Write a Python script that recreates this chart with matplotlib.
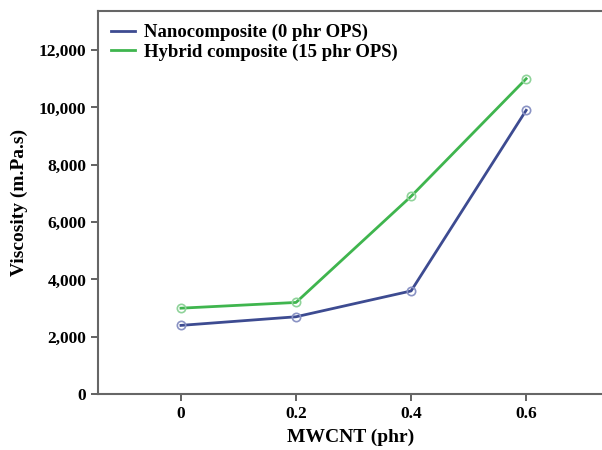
import numpy as np
import matplotlib
matplotlib.use('Agg')
import matplotlib.pyplot as plt

plt.rcParams['font.family'] = ['Liberation Serif', 'DejaVu Serif']
plt.rcParams['font.weight'] = 'bold'

mwcnt = [0, 0.2, 0.4, 0.6]
nano = [2400, 2700, 3600, 9900]
hybrid = [3000, 3200, 6900, 11000]
yticks = [0, 2000, 4000, 6000, 8000, 10000, 12000]
xticks = [0, 0.2, 0.4, 0.6]

fig = plt.figure(figsize=(6.02, 4.5), dpi=100)
ax = fig.add_axes([0.163, 0.124, 0.84, 0.852])

ax.plot(mwcnt, nano, color='#3d4b91', lw=2, marker='o', ms=6, mfc='none',
        mec='#8a93c4', mew=1.2, label='Nanocomposite (0 phr OPS)')
ax.plot(mwcnt, hybrid, color='#3fb54e', lw=2, marker='o', ms=6, mfc='none',
        mec='#8fd39a', mew=1.2, label='Hybrid composite (15 phr OPS)')

ax.set_xlim(-0.144, 0.735)
ax.set_ylim(0, 13370)
ax.set_xticks(xticks)
ax.set_xticklabels(['0', '0.2', '0.4', '0.6'])
ax.set_yticks(yticks)
ax.set_yticklabels([f'{v:,}' for v in yticks])
ax.tick_params(labelsize=12.5, color='#555555', width=1.3, length=5)

for s in ['left', 'bottom', 'top']:
    ax.spines[s].set_color('#666666')
    ax.spines[s].set_linewidth(1.5)
ax.spines['right'].set_visible(False)

ax.set_xlabel('MWCNT (phr)', fontsize=14, fontweight='bold', labelpad=5)
ax.set_ylabel('Viscosity (m.Pa.s)', fontsize=14, fontweight='bold', labelpad=8)

leg = ax.legend(loc='upper left', frameon=False, fontsize=13.5, handlelength=1.25,
                handletextpad=0.5, labelspacing=0.12, borderaxespad=0.3)
for h in leg.get_lines():
    h.set_marker('')

fig.savefig('out.png', dpi=100)
